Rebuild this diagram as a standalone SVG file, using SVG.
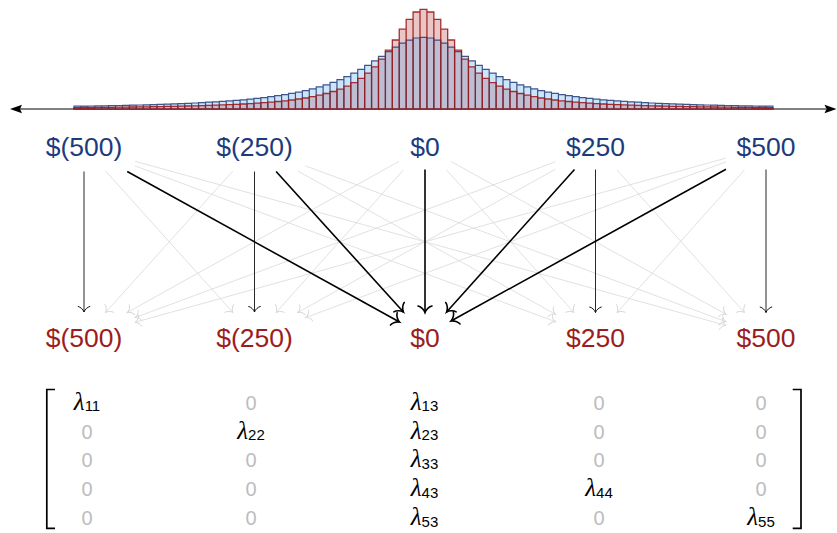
<svg xmlns="http://www.w3.org/2000/svg" xmlns:xlink="http://www.w3.org/1999/xlink" width="837" height="533" viewBox="0 0 837 533">
<style>
.top{font-family:"Liberation Sans",Arial,sans-serif;font-size:26.5px;fill:#1c3b7c;text-anchor:middle}
.bot{font-family:"Liberation Sans",Arial,sans-serif;font-size:26.5px;fill:#9b1d20;text-anchor:middle}
.z{font-family:"Liberation Sans",Arial,sans-serif;font-size:20px;fill:#bdbdbd;text-anchor:middle}
.l{font-family:"Liberation Sans",Arial,sans-serif;font-size:15px;fill:#000;text-anchor:middle}
.lam{font-family:"Liberation Serif","DejaVu Serif",serif;font-style:italic;font-size:25px}
.gray{stroke:#d9d9d9;stroke-width:0.8;fill:none;marker-end:url(#ag)}
.thin{stroke:#111;stroke-width:0.9;fill:none;marker-end:url(#ad)}
.thick{stroke:#000;stroke-width:1.6;fill:none;marker-end:url(#at)}
.rf{fill:#eac6c6;stroke:none}
.bf{fill:rgba(90,170,235,0.3);stroke:#1f3b7d;stroke-opacity:0.85;stroke-width:1.2}
.rs{fill:none;stroke:#9b1b1b;stroke-width:1.3;stroke-opacity:0.9}
.br{fill:none;stroke:#000;stroke-width:1.7}
</style>
<defs>
<marker id="ag" markerUnits="userSpaceOnUse" markerWidth="16" markerHeight="16" viewBox="-8 -8 16 16" refX="0" refY="0" orient="auto">
<path d="M-5.5,-5.8 C-5,-3.5 -2.5,-0.8 0,0 C-2.5,0.8 -5,3.5 -5.5,5.8" fill="none" stroke="#d5d5d5" stroke-width="0.9" stroke-linecap="round"/>
</marker>
<marker id="ad" markerUnits="userSpaceOnUse" markerWidth="16" markerHeight="16" viewBox="-8 -8 16 16" refX="0" refY="0" orient="auto">
<path d="M-5.5,-5.8 C-5,-3.5 -2.5,-0.8 0,0 C-2.5,0.8 -5,3.5 -5.5,5.8" fill="none" stroke="#111" stroke-width="1" stroke-linecap="round"/>
</marker>
<marker id="at" markerUnits="userSpaceOnUse" markerWidth="18" markerHeight="18" viewBox="-9 -9 18 18" refX="0" refY="0" orient="auto">
<path d="M-6.5,-7 C-6,-4.2 -3,-1 0,0 C-3,1 -6,4.2 -6.5,7" fill="none" stroke="#000" stroke-width="1.6" stroke-linecap="round"/>
</marker>
<path id="red" d="M74 109v-1.4h6.92V109zM80.92 109v-1.5h6.92V109zM87.84 109v-1.5h6.92V109zM94.76 109v-1.6h6.92V109zM101.68 109v-1.7h6.92V109zM108.6 109v-1.7h6.92V109zM115.52 109v-1.8h6.92V109zM122.44 109v-1.9h6.92V109zM129.36 109v-2h6.92V109zM136.28 109v-2.1h6.92V109zM143.2 109v-2.2h6.92V109zM150.12 109v-2.3h6.92V109zM157.04 109v-2.4h6.92V109zM163.96 109v-2.6h6.92V109zM170.88 109v-2.7h6.92V109zM177.8 109v-2.9h6.92V109zM184.72 109v-3h6.92V109zM191.64 109v-3.2h6.92V109zM198.56 109v-3.4h6.92V109zM205.48 109v-3.6h6.92V109zM212.4 109v-3.8h6.92V109zM219.32 109v-4.1h6.92V109zM226.24 109v-4.4h6.92V109zM233.16 109v-4.7h6.92V109zM240.08 109v-5h6.92V109zM247 109v-5.4h6.92V109zM253.92 109v-5.9h6.92V109zM260.84 109v-6.4h6.92V109zM267.76 109v-6.9h6.92V109zM274.68 109v-7.5h6.92V109zM281.6 109v-8.2h6.92V109zM288.52 109v-9h6.92V109zM295.44 109v-10h6.92V109zM302.36 109v-11h6.92V109zM309.28 109v-12.3h6.92V109zM316.2 109v-13.8h6.92V109zM323.12 109v-15.5h6.92V109zM330.04 109v-17.5h6.92V109zM336.96 109v-19.9h6.92V109zM343.88 109v-22.9h6.92V109zM350.8 109v-26.4h6.92V109zM357.72 109v-30.7h6.92V109zM364.64 109v-35.9h6.92V109zM371.56 109v-42.2h6.92V109zM378.48 109v-49.9h6.92V109zM385.4 109v-58.8h6.92V109zM392.32 109v-69h6.92V109zM399.24 109v-79.8h6.92V109zM406.16 109v-89.7h6.92V109zM413.08 109v-97h6.92V109zM420 109v-99.7h6.92V109zM426.92 109v-97h6.92V109zM433.84 109v-89.7h6.92V109zM440.76 109v-79.8h6.92V109zM447.68 109v-69h6.92V109zM454.6 109v-58.8h6.92V109zM461.52 109v-49.9h6.92V109zM468.44 109v-42.2h6.92V109zM475.36 109v-35.9h6.92V109zM482.28 109v-30.7h6.92V109zM489.2 109v-26.4h6.92V109zM496.12 109v-22.9h6.92V109zM503.04 109v-19.9h6.92V109zM509.96 109v-17.5h6.92V109zM516.88 109v-15.5h6.92V109zM523.8 109v-13.8h6.92V109zM530.72 109v-12.3h6.92V109zM537.64 109v-11h6.92V109zM544.56 109v-10h6.92V109zM551.48 109v-9h6.92V109zM558.4 109v-8.2h6.92V109zM565.32 109v-7.5h6.92V109zM572.24 109v-6.9h6.92V109zM579.16 109v-6.4h6.92V109zM586.08 109v-5.9h6.92V109zM593 109v-5.4h6.92V109zM599.92 109v-5h6.92V109zM606.84 109v-4.7h6.92V109zM613.76 109v-4.4h6.92V109zM620.68 109v-4.1h6.92V109zM627.6 109v-3.8h6.92V109zM634.52 109v-3.6h6.92V109zM641.44 109v-3.4h6.92V109zM648.36 109v-3.2h6.92V109zM655.28 109v-3h6.92V109zM662.2 109v-2.9h6.92V109zM669.12 109v-2.7h6.92V109zM676.04 109v-2.6h6.92V109zM682.96 109v-2.4h6.92V109zM689.88 109v-2.3h6.92V109zM696.8 109v-2.2h6.92V109zM703.72 109v-2.1h6.92V109zM710.64 109v-2h6.92V109zM717.56 109v-1.9h6.92V109zM724.48 109v-1.8h6.92V109zM731.4 109v-1.7h6.92V109zM738.32 109v-1.7h6.92V109zM745.24 109v-1.6h6.92V109zM752.16 109v-1.5h6.92V109zM759.08 109v-1.5h6.92V109zM766 109v-1.4h6.92V109z"/>
<path id="blue" d="M74 109v-2.8h6.92V109zM80.92 109v-2.9h6.92V109zM87.84 109v-3h6.92V109zM94.76 109v-3.1h6.92V109zM101.68 109v-3.2h6.92V109zM108.6 109v-3.4h6.92V109zM115.52 109v-3.5h6.92V109zM122.44 109v-3.7h6.92V109zM129.36 109v-3.9h6.92V109zM136.28 109v-4h6.92V109zM143.2 109v-4.2h6.92V109zM150.12 109v-4.4h6.92V109zM157.04 109v-4.6h6.92V109zM163.96 109v-4.9h6.92V109zM170.88 109v-5.1h6.92V109zM177.8 109v-5.4h6.92V109zM184.72 109v-5.7h6.92V109zM191.64 109v-6h6.92V109zM198.56 109v-6.4h6.92V109zM205.48 109v-6.8h6.92V109zM212.4 109v-7.2h6.92V109zM219.32 109v-7.6h6.92V109zM226.24 109v-8.1h6.92V109zM233.16 109v-8.7h6.92V109zM240.08 109v-9.2h6.92V109zM247 109v-9.9h6.92V109zM253.92 109v-10.6h6.92V109zM260.84 109v-11.4h6.92V109zM267.76 109v-12.3h6.92V109zM274.68 109v-13.3h6.92V109zM281.6 109v-14.3h6.92V109zM288.52 109v-15.6h6.92V109zM295.44 109v-16.9h6.92V109zM302.36 109v-18.4h6.92V109zM309.28 109v-20.1h6.92V109zM316.2 109v-22.1h6.92V109zM323.12 109v-24.2h6.92V109zM330.04 109v-26.7h6.92V109zM336.96 109v-29.4h6.92V109zM343.88 109v-32.4h6.92V109zM350.8 109v-35.9h6.92V109zM357.72 109v-39.6h6.92V109zM364.64 109v-43.7h6.92V109zM371.56 109v-48.1h6.92V109zM378.48 109v-52.7h6.92V109zM385.4 109v-57.4h6.92V109zM392.32 109v-61.8h6.92V109zM399.24 109v-65.8h6.92V109zM406.16 109v-68.9h6.92V109zM413.08 109v-71h6.92V109zM420 109v-71.7h6.92V109zM426.92 109v-71h6.92V109zM433.84 109v-68.9h6.92V109zM440.76 109v-65.8h6.92V109zM447.68 109v-61.8h6.92V109zM454.6 109v-57.4h6.92V109zM461.52 109v-52.7h6.92V109zM468.44 109v-48.1h6.92V109zM475.36 109v-43.7h6.92V109zM482.28 109v-39.6h6.92V109zM489.2 109v-35.9h6.92V109zM496.12 109v-32.4h6.92V109zM503.04 109v-29.4h6.92V109zM509.96 109v-26.7h6.92V109zM516.88 109v-24.2h6.92V109zM523.8 109v-22.1h6.92V109zM530.72 109v-20.1h6.92V109zM537.64 109v-18.4h6.92V109zM544.56 109v-16.9h6.92V109zM551.48 109v-15.6h6.92V109zM558.4 109v-14.3h6.92V109zM565.32 109v-13.3h6.92V109zM572.24 109v-12.3h6.92V109zM579.16 109v-11.4h6.92V109zM586.08 109v-10.6h6.92V109zM593 109v-9.9h6.92V109zM599.92 109v-9.2h6.92V109zM606.84 109v-8.7h6.92V109zM613.76 109v-8.1h6.92V109zM620.68 109v-7.6h6.92V109zM627.6 109v-7.2h6.92V109zM634.52 109v-6.8h6.92V109zM641.44 109v-6.4h6.92V109zM648.36 109v-6h6.92V109zM655.28 109v-5.7h6.92V109zM662.2 109v-5.4h6.92V109zM669.12 109v-5.1h6.92V109zM676.04 109v-4.9h6.92V109zM682.96 109v-4.6h6.92V109zM689.88 109v-4.4h6.92V109zM696.8 109v-4.2h6.92V109zM703.72 109v-4h6.92V109zM710.64 109v-3.9h6.92V109zM717.56 109v-3.7h6.92V109zM724.48 109v-3.5h6.92V109zM731.4 109v-3.4h6.92V109zM738.32 109v-3.2h6.92V109zM745.24 109v-3.1h6.92V109zM752.16 109v-3h6.92V109zM759.08 109v-2.9h6.92V109zM766 109v-2.8h6.92V109z"/>
</defs>

<g id="histogram">
<line x1="20" y1="109" x2="826" y2="109" stroke="#000" stroke-width="1"/>
<polygon points="10,109 22,104.8 20,109 22,113.2" fill="#000"/>
<polygon points="836.5,109 824.5,104.8 826.5,109 824.5,113.2" fill="#000"/>
<use xlink:href="#red" class="rf"/>
<use xlink:href="#blue" class="bf"/>
<use xlink:href="#red" class="rs"/>
</g>

<g id="connectors">
<g id="faint">
<line class="gray" x1="105.6" y1="171" x2="232.9" y2="312.5"/>
<line class="gray" x1="135" y1="165.9" x2="555.5" y2="321.7"/>
<line class="gray" x1="135" y1="161.2" x2="726" y2="325.4"/>
<line class="gray" x1="232.9" y1="171" x2="105.6" y2="312.5"/>
<line class="gray" x1="297.7" y1="171" x2="555.5" y2="314.3"/>
<line class="gray" x1="305.5" y1="165.9" x2="726" y2="321.7"/>
<line class="gray" x1="399" y1="161.4" x2="127.2" y2="312.5"/>
<line class="gray" x1="403.4" y1="170" x2="276.1" y2="312.5"/>
<line class="gray" x1="446.6" y1="170" x2="573.9" y2="312.5"/>
<line class="gray" x1="451" y1="161.4" x2="726" y2="314.3"/>
<line class="gray" x1="555.5" y1="161.8" x2="135" y2="317.6"/>
<line class="gray" x1="555.5" y1="169.2" x2="297.7" y2="312.5"/>
<line class="gray" x1="617.1" y1="170" x2="744.4" y2="312.5"/>
<line class="gray" x1="726" y1="158.1" x2="135" y2="322.3"/>
<line class="gray" x1="726" y1="161.8" x2="305.5" y2="317.6"/>
<line class="gray" x1="744.4" y1="170" x2="617.1" y2="312.5"/>
</g>
<g id="diag">
<line class="thin" x1="84" y1="171.5" x2="84" y2="312"/>
<line class="thin" x1="254.5" y1="171.5" x2="254.5" y2="312"/>
<line class="thin" x1="595.5" y1="169.5" x2="595.5" y2="312.5"/>
<line class="thin" x1="766" y1="169.5" x2="766" y2="312.5"/>
</g>
<g id="to-zero">
<line class="thick" x1="127.2" y1="171.5" x2="399.5" y2="322"/>
<line class="thick" x1="276.1" y1="171.5" x2="403.4" y2="312"/>
<line class="thick" x1="425" y1="169.5" x2="425" y2="312.5"/>
<line class="thick" x1="574.5" y1="169.5" x2="446.6" y2="312"/>
<line class="thick" x1="726" y1="169.3" x2="451" y2="321"/>
</g>
</g>

<g id="top-m500"><text class="top" x="84" y="156">$(500)</text></g>
<g id="top-m250"><text class="top" x="254.5" y="156">$(250)</text></g>
<g id="top-0"><text class="top" x="425" y="156">$0</text></g>
<g id="top-250"><text class="top" x="595.5" y="156">$250</text></g>
<g id="top-500"><text class="top" x="766" y="156">$500</text></g>

<g id="bot-m500"><text class="bot" x="84" y="346.5">$(500)</text></g>
<g id="bot-m250"><text class="bot" x="254.5" y="346.5">$(250)</text></g>
<g id="bot-0"><text class="bot" x="425" y="346.5">$0</text></g>
<g id="bot-250"><text class="bot" x="595.5" y="346.5">$250</text></g>
<g id="bot-500"><text class="bot" x="766" y="346.5">$500</text></g>

<g id="matrix">
<path class="br" d="M55,389.5 H46.8 V528.3 H55"/>
<path class="br" d="M792.7,389.5 H801 V528.3 H792.7"/>
<text class="l" x="87" y="409.5"><tspan class="lam">λ</tspan><tspan dy="1.5">11</tspan></text>
<text class="z" x="251" y="409.5">0</text>
<text class="l" x="424.5" y="409.5"><tspan class="lam">λ</tspan><tspan dy="1.5">13</tspan></text>
<text class="z" x="599" y="409.5">0</text>
<text class="z" x="761" y="409.5">0</text>

<text class="z" x="87" y="438.5">0</text>
<text class="l" x="251" y="438.5"><tspan class="lam">λ</tspan><tspan dy="1.5">22</tspan></text>
<text class="l" x="424.5" y="438.5"><tspan class="lam">λ</tspan><tspan dy="1.5">23</tspan></text>
<text class="z" x="599" y="438.5">0</text>
<text class="z" x="761" y="438.5">0</text>

<text class="z" x="87" y="467.4">0</text>
<text class="z" x="251" y="467.4">0</text>
<text class="l" x="424.5" y="467.4"><tspan class="lam">λ</tspan><tspan dy="1.5">33</tspan></text>
<text class="z" x="599" y="467.4">0</text>
<text class="z" x="761" y="467.4">0</text>

<text class="z" x="87" y="496.3">0</text>
<text class="z" x="251" y="496.3">0</text>
<text class="l" x="424.5" y="496.3"><tspan class="lam">λ</tspan><tspan dy="1.5">43</tspan></text>
<text class="l" x="599" y="496.3"><tspan class="lam">λ</tspan><tspan dy="1.5">44</tspan></text>
<text class="z" x="761" y="496.3">0</text>

<text class="z" x="87" y="525">0</text>
<text class="z" x="251" y="525">0</text>
<text class="l" x="424.5" y="525"><tspan class="lam">λ</tspan><tspan dy="1.5">53</tspan></text>
<text class="z" x="599" y="525">0</text>
<text class="l" x="761" y="525"><tspan class="lam">λ</tspan><tspan dy="1.5">55</tspan></text>
</g>
</svg>
